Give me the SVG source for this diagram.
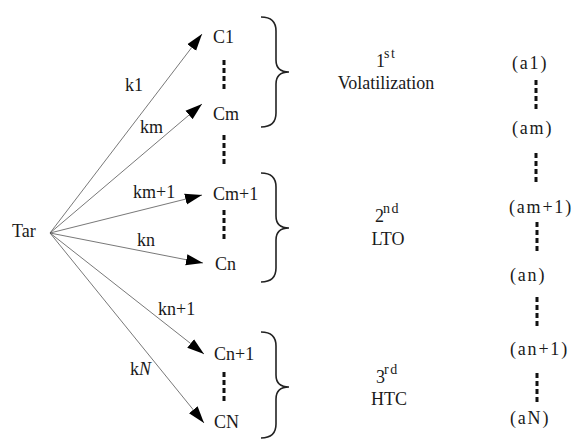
<svg xmlns="http://www.w3.org/2000/svg" width="576" height="439" viewBox="0 0 576 439">
<style>
text{font-family:'Liberation Serif','Times New Roman',serif;font-size:18px;fill:#1a1a1a}
.sup{font-size:14px;letter-spacing:1.5px}
.a{letter-spacing:1.8px}
.edge{stroke:#555;stroke-width:0.8;fill:none;marker-end:url(#ah)}
.dots{stroke:#111;stroke-width:3;stroke-dasharray:5 3;fill:none}
.brace{stroke:#222;stroke-width:1.6;fill:none}
</style>
<defs>
<marker id="ah" markerUnits="userSpaceOnUse" markerWidth="18" markerHeight="12" refX="17" refY="6" orient="auto">
<path d="M0,0.5 L17,6 L0,11.5 Z" fill="#000"/>
</marker>
</defs>
<rect width="576" height="439" fill="#fff"/>
<g id="connectors">
<line class="edge" x1="50" y1="233" x2="202" y2="34"/>
<line class="edge" x1="50" y1="233" x2="202" y2="104"/>
<line class="edge" x1="50" y1="233" x2="202" y2="195"/>
<line class="edge" x1="50" y1="233" x2="203" y2="263"/>
<line class="edge" x1="50" y1="233" x2="204" y2="354"/>
<line class="edge" x1="50" y1="233" x2="204" y2="423"/>
<text x="125" y="91">k1</text>
<text x="140" y="133">km</text>
<text x="133" y="198">km+1</text>
<text x="137" y="246">kn</text>
<text x="158" y="315">kn+1</text>
<text x="130" y="375">k<tspan font-style="italic">N</tspan></text>
</g>
<g id="tar"><text x="12" y="237">Tar</text></g>
<g id="c1"><text x="213" y="43">C1</text></g>
<g id="cm"><text x="213" y="120">Cm</text></g>
<g id="cm1"><text x="213" y="200">Cm+1</text></g>
<g id="cn"><text x="215" y="270">Cn</text></g>
<g id="cn1"><text x="214" y="360">Cn+1</text></g>
<g id="cN"><text x="214" y="428">CN</text></g>
<g id="species-dots">
<line class="dots" x1="224" y1="60" x2="224" y2="89"/>
<line class="dots" x1="224" y1="135" x2="224" y2="164"/>
<line class="dots" x1="224" y1="210" x2="224" y2="239"/>
<line class="dots" x1="224" y1="372" x2="224" y2="401"/>
</g>
<g id="stage1">
<path class="brace" d="M261,17 Q276,17 276,31 L276,60 Q276,72 289,72 Q276,72 276,84 L276,113 Q276,127 261,127"/>
<text x="376" y="67">1</text><text class="sup" x="384" y="58">st</text>
<text x="386" y="89" text-anchor="middle">Volatilization</text>
</g>
<g id="stage2">
<path class="brace" d="M261,173 Q276,173 276,187 L276,216 Q276,228 289,228 Q276,228 276,240 L276,268 Q276,282 261,282"/>
<text x="375" y="222">2</text><text class="sup" x="383" y="213">nd</text>
<text x="388" y="245" text-anchor="middle">LTO</text>
</g>
<g id="stage3">
<path class="brace" d="M261,332 Q276,332 276,346 L276,375 Q276,387 289,387 Q276,387 276,399 L276,424 Q276,438 261,438"/>
<text x="376" y="383">3</text><text class="sup" x="384" y="374">rd</text>
<text x="389" y="405" text-anchor="middle">HTC</text>
</g>
<g id="coefficients">
<text class="a" x="512" y="69">(a1)</text>
<line class="dots" x1="536" y1="80" x2="536" y2="109"/>
<text class="a" x="512" y="134">(am)</text>
<line class="dots" x1="536" y1="153" x2="536" y2="182"/>
<text class="a" x="509" y="213">(am+1)</text>
<line class="dots" x1="537" y1="222" x2="537" y2="251"/>
<text class="a" x="510" y="281">(an)</text>
<line class="dots" x1="537" y1="297" x2="537" y2="326"/>
<text class="a" x="510" y="355">(an+1)</text>
<line class="dots" x1="537" y1="373" x2="537" y2="402"/>
<text class="a" x="510" y="424">(aN)</text>
</g>
</svg>
